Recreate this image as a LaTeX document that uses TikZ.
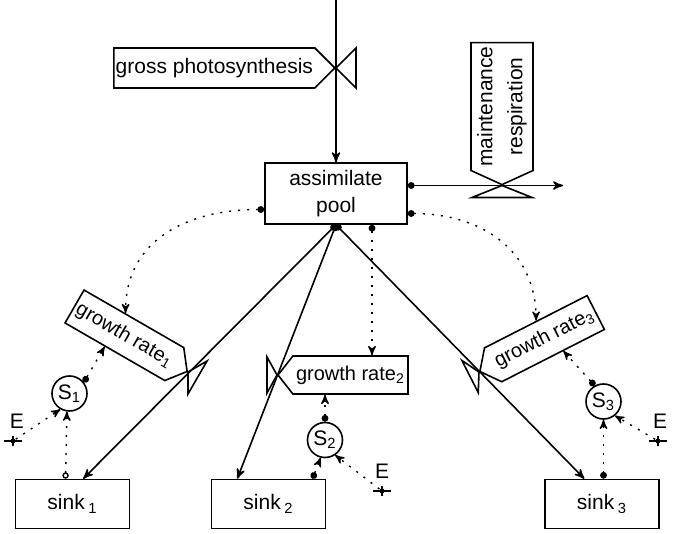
\documentclass[tikz,border=0pt]{standalone}
\usepackage{fontspec}
\setmainfont{Liberation Sans}
\usetikzlibrary{arrows,arrows.meta,shapes.symbols,positioning}

\begin{document}
\begin{tikzpicture}[x=0.5pt,y=-0.5pt,>=stealth',thick,
                    font=\fontsize{10.5}{13.5}\selectfont,
                    level node/.style={rectangle,draw,align=center},
                    valve node/.style={signal,draw,inner xsep=0pt,inner ysep=0pt},
                    rate node/.style={valve node,minimum width=65pt,minimum height=19pt,
                                      signal pointer angle=104,font=\fontsize{10}{12}\selectfont},
                    aux node/.style={circle,draw,inner sep=0pt,minimum size=17.5pt},
                    env node/.style={circle,fill,inner sep=0pt,minimum size=2.5pt},
                    port/.style={{Circle[length=3.4pt]}->},
                    open port/.style={{Circle[open,length=3.2pt]}->},
                    flow/.style={->,line width=0.8pt},
                    info/.style={->,line width=0.7pt,dash pattern=on 1pt off 3.5pt}
                    ]
  \useasboundingbox (0,0) rectangle (675,534);

  % levels
  \node[level node,minimum width=71pt,minimum height=30.5pt] (pool) at (336,193.5) {assimilate\\pool};
  \node[level node,minimum width=57pt,minimum height=24.5pt] (sink1) at (72.5,504) {sink\,\textsubscript{1}};
  \node[level node,minimum width=57pt,minimum height=24.5pt] (sink2) at (268.5,504) {sink\,\textsubscript{2}};
  \node[level node,minimum width=57pt,minimum height=24.5pt] (sink3) at (602,504) {sink\,\textsubscript{3}};

  % rates
  \node[valve node,signal to=east,minimum width=110.5pt,minimum height=20pt,anchor=east] (gp) at (336,68) {gross photosynthesis};
  \node[valve node,signal to=west,rotate=90,align=center,minimum width=71pt,minimum height=31pt,
        signal pointer angle=131,anchor=west] (mr) at (502,185.5) {maintenance\\[1.5pt]respiration};
  \node[rate node,signal to=east,rotate=-30,anchor=east] (gr1) at (188,372) {growth rate\textsubscript{1}};
  \node[rate node,signal to=west,anchor=west] (gr2) at (277,375) {growth rate\textsubscript{2}};
  \node[rate node,signal to=west,rotate=27,anchor=west] (gr3) at (479,372) {growth rate\textsubscript{3}};

  \draw[shift={(gp.east)}] (0,0) -- (20,-20) -- (20,20) -- cycle;
  \draw[shift={(mr.west)}] (0,0) -- (-30,12) -- (30,12) -- cycle;
  \draw[shift={(gr1.east)},rotate=-30] (0,0) -- (11,-19) -- (11,19) -- cycle;
  \draw[shift={(gr2.west)}] (0,0) -- (-10,-18) -- (-10,18) -- cycle;
  \draw[shift={(gr3.west)},rotate=27] (0,0) -- (-10,-18) -- (-10,18) -- cycle;

  % auxiliaries and driving variables
  \node[aux node] (S1) at (69.5,393.5) {S\textsubscript{1}};
  \node[aux node] (S2) at (325,440) {S\textsubscript{2}};
  \node[aux node] (S3) at (603.5,401.5) {S\textsubscript{3}};

  \node[env node] (e1) at (13,441) {};
  \node[env node] (e2) at (382,491) {};
  \node[env node] (e3) at (658,441) {};
  \node[above=1pt of e1,xshift=2pt] (E1) {E};
  \node[above=1pt of e2] (E2) {E};
  \node[above=1pt of e3,xshift=1pt] (E3) {E};
  \foreach \e in {e1,e2,e3}
    \draw[line width=0.6pt] ([xshift=-4.5pt]\e.center) -- ([xshift=4.5pt]\e.center)
                            ([yshift=-2.5pt]\e.center) -- ([yshift=2.5pt]\e.center);

  % material flows
  \coordinate (src) at (336,0);
  \coordinate (out) at (563,185.5);
  \draw[flow] (src) -- (pool.north);
  \draw[flow,port] ([yshift=4pt]pool.east) -- (out);
  \path[flow,port] (pool.south) edge (sink1.67)
                                edge (sink2.141)
                                edge (sink3.125);

  % information flows
  \coordinate (pb) at ([xshift=18pt]pool.south);
  \path[info,port] ([yshift=-8pt]pool.west) edge[out=180,in=90,looseness=1.1] (gr1.117)
                   ([yshift=-10pt]pool.east) edge[out=0,in=90,looseness=1.1] (gr3.88);
  \draw[info,port] (pb) -- (pb |- gr2.north);
  \draw[info,port] (S1.38) -- (gr1.240);
  \draw[info,port] (S2.north) -- (S2.north |- gr2.south);
  \draw[info,port] (S3.119) -- (gr3.300);
  \draw[info,open port] ([xshift=-3.5pt]sink1.north) -- (S1.262);
  \draw[info,port] ([xshift=22pt]sink2.north) -- (S2.256);
  \draw[info,port] (sink3.north -| S3.south) -- (S3.south);
  \draw[info] (e1) -- (S1.240);
  \draw[info] (e2) -- (S2.304);
  \draw[info] (e3) -- (S3.309);
\end{tikzpicture}
\end{document}
